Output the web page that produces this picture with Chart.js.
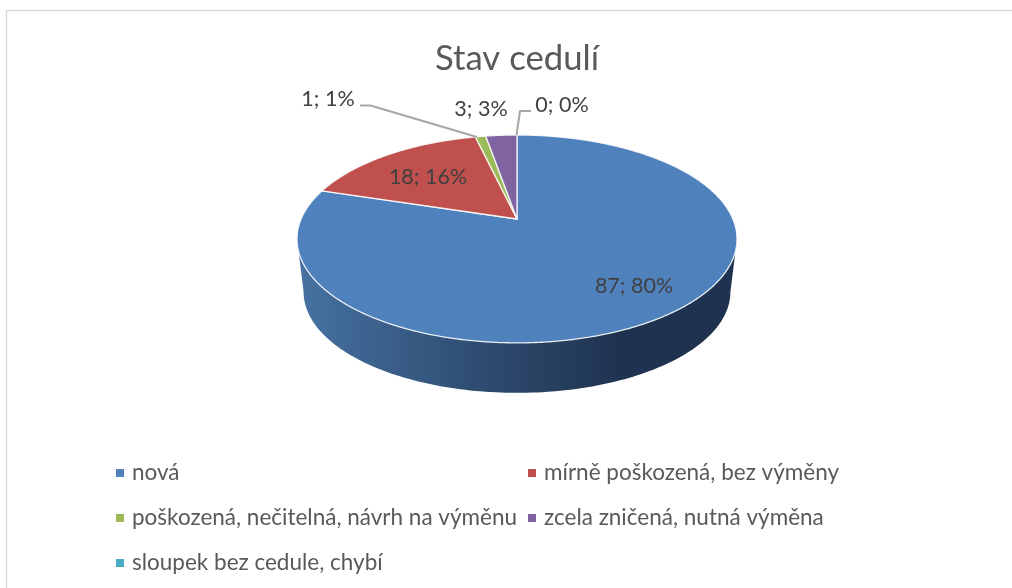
<!DOCTYPE html>
<html lang="cs">
  <head>
    <meta charset="UTF-8">
    <title>Stav cedulí</title>
    <script src="https://cdn.jsdelivr.net/npm/chart.js"></script>
    <style>
      html, body {
        margin: 0;
        background: #fff
      }

      canvas {
        display: block
      }
    </style>
  </head>
  <body>
    <canvas id="pie-chart" width="1012" height="588"></canvas>
    <script>
      const categories = [
        'nová',
        'mírně poškozená, bez výměny',
        'poškozená, nečitelná, návrh na výměnu',
        'zcela zničená, nutná výměna',
        'sloupek bez cedule, chybí'
      ];
      const values = [87, 18, 1, 3, 0];
      const percents = [80, 16, 1, 3, 0];
      const colors = ['#4f81bd', '#c0504d', '#9bbb59', '#8064a2', '#4bacc6'];

      const textColor = '#595959';
      const labelColor = '#404040';
      const fontName = 'Lato, "Open Sans", sans-serif';

      // perspective of the tilted disc: apex point, size and foreshortening
      const disc = { x: 517, y: 219, a: 215.9, b: 100.1, k: 0.192 };
      // bottom rim is a slightly smaller copy pushed down
      const rim = { scale: 0.97, drop: 53.7 };

      function project(angle, r = 1) {
        const u = Math.cos(angle) * r;
        const v = Math.sin(angle) * r;
        const w = 1 - disc.k * v;
        return { x: disc.x + disc.a * u / w, y: disc.y + disc.b * v / w };
      }

      function rimPoint(angle) {
        const p = project(angle);
        return {
          x: disc.x + (p.x - disc.x) * rim.scale,
          y: disc.y + (p.y - disc.y) * rim.scale + rim.drop
        };
      }

      // side wall, only the part of the ring that faces the viewer
      function drawSide(ctx, arcs) {
        const from = Math.asin(disc.k);
        const to = Math.PI - from;
        arcs.forEach((arc) => {
          let start = arc.startAngle;
          let end = arc.endAngle;
          start = Math.max(start, from);
          end = Math.min(end, to);
          if (end <= start) return;
          const top = [];
          const bottom = [];
          for (let a = start; a < end; a += 0.02) {
            top.push(project(a));
            bottom.push(rimPoint(a));
          }
          top.push(project(end));
          bottom.push(rimPoint(end));
          const gradient = ctx.createLinearGradient(297, 0, 620, 0);
          gradient.addColorStop(0, '#4672a3');
          gradient.addColorStop(0.55, '#2f4d72');
          gradient.addColorStop(1, '#1f3350');
          ctx.beginPath();
          top.forEach((p, i) => (i ? ctx.lineTo(p.x, p.y) : ctx.moveTo(p.x, p.y)));
          bottom.reverse().forEach((p) => ctx.lineTo(p.x, p.y));
          ctx.closePath();
          ctx.fillStyle = gradient;
          ctx.fill();
        });
      }

      function drawTop(ctx, arcs) {
        arcs.forEach((arc, i) => {
          if (arc.endAngle <= arc.startAngle) return;
          const apex = project(0, 0);
          ctx.beginPath();
          ctx.moveTo(apex.x, apex.y);
          for (let a = arc.startAngle; a < arc.endAngle; a += 0.01) {
            const p = project(a);
            ctx.lineTo(p.x, p.y);
          }
          const last = project(arc.endAngle);
          ctx.lineTo(last.x, last.y);
          ctx.closePath();
          ctx.fillStyle = colors[i];
          ctx.fill();
          ctx.strokeStyle = 'rgba(255,255,255,.85)';
          ctx.lineWidth = 1.3;
          ctx.lineJoin = 'round';
          ctx.stroke();
        });
      }

      function drawLeaders(ctx) {
        ctx.strokeStyle = '#a6a6a6';
        ctx.lineWidth = 2;
        ctx.beginPath();
        ctx.moveTo(360, 105.5);
        ctx.lineTo(370.5, 105.5);
        ctx.lineTo(477, 137);
        ctx.moveTo(531, 111);
        ctx.lineTo(520, 111);
        ctx.lineTo(516.5, 135);
        ctx.stroke();
      }

      function drawLabels(ctx) {
        // where each label sits, same order as the categories
        const anchors = [[634, 286], [428, 177], [328, 99], [481, 109], [562, 105]];
        ctx.font = '21.5px ' + fontName;
        ctx.fillStyle = labelColor;
        ctx.textAlign = 'center';
        ctx.textBaseline = 'middle';
        values.forEach((v, i) => {
          ctx.fillText(v + '; ' + percents[i] + '%', anchors[i][0], anchors[i][1]);
        });
      }

      function drawLegend(ctx) {
        const columns = [116, 528];
        const rows = [473, 518, 563];
        ctx.font = '22.5px ' + fontName;
        ctx.textAlign = 'left';
        ctx.textBaseline = 'middle';
        categories.forEach((name, i) => {
          const x = columns[i % 2];
          const y = rows[Math.floor(i / 2)];
          ctx.fillStyle = colors[i];
          ctx.fillRect(x, y - 4, 8, 8);
          ctx.fillStyle = textColor;
          ctx.fillText(name, x + 16, y);
        });
      }

      const tiltedPie = {
        id: 'tiltedPie',
        beforeDraw(chart) {
          const ctx = chart.ctx;
          ctx.save();
          ctx.fillStyle = '#fff';
          ctx.fillRect(0, 0, chart.width, chart.height);
          ctx.strokeStyle = '#d9d9d9';
          ctx.lineWidth = 1.5;
          ctx.beginPath();
          ctx.moveTo(chart.width, 10.5);
          ctx.lineTo(6.5, 10.5);
          ctx.lineTo(6.5, chart.height);
          ctx.stroke();
          ctx.restore();
        },
        beforeDatasetsDraw(chart) {
          const ctx = chart.ctx;
          const arcs = chart.getDatasetMeta(0).data;
          ctx.save();
          drawSide(ctx, arcs);
          drawTop(ctx, arcs);
          drawLeaders(ctx);
          drawLabels(ctx);
          drawLegend(ctx);
          ctx.restore();
          return false;
        }
      };

      new Chart(document.getElementById('pie-chart'), {
        type: 'pie',
        data: {
          labels: categories,
          datasets: [{
            data: values,
            backgroundColor: colors,
            borderWidth: 0
          }]
        },
        options: {
          responsive: false,
          animation: false,
          layout: { padding: { left: 22, right: 0, top: 38, bottom: 128 } },
          plugins: {
            legend: { display: false },
            tooltip: { enabled: false },
            title: {
              display: true,
              text: 'Stav cedulí',
              color: textColor,
              fullSize: false,
              font: { family: fontName, size: 34.7, weight: 'normal' },
              padding: { top: 0, bottom: 0 }
            }
          }
        },
        plugins: [tiltedPie]
      });
    </script>
  </body>
</html>
